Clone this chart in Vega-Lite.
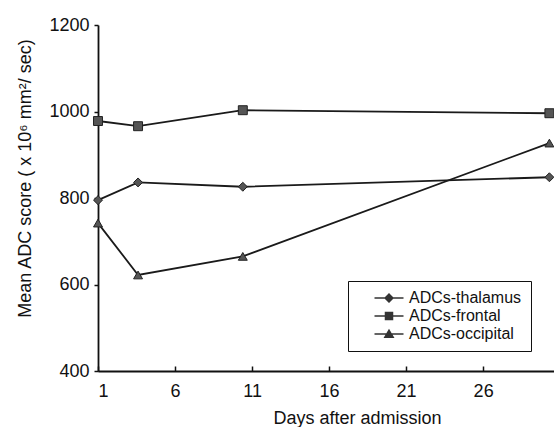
{
  "$schema": "https://vega.github.io/schema/vega-lite/v6.json",
  "width": 456,
  "height": 346,
  "autosize": {"type": "none"},
  "padding": {"left": 98, "top": 25, "right": 0, "bottom": 56},
  "background": "white",
  "config": {
    "view": {"stroke": null},
    "font": "Liberation Sans",
    "axis": {"grid": false, "domainColor": "#111", "domainWidth": 1.8, "tickColor": "#111", "tickWidth": 1.5, "labelColor": "#111", "titleColor": "#111", "labelFont": "Liberation Sans", "titleFont": "Liberation Sans", "labelFontWeight": "normal", "titleFontWeight": "normal"}
  },
  "data": {
    "values": [
      {"day": 1, "adc": 795, "series": "ADCs-thalamus"},
      {"day": 3.6, "adc": 836, "series": "ADCs-thalamus"},
      {"day": 10.4, "adc": 826, "series": "ADCs-thalamus"},
      {"day": 30.3, "adc": 848, "series": "ADCs-thalamus"},
      {"day": 1, "adc": 978, "series": "ADCs-frontal"},
      {"day": 3.6, "adc": 966, "series": "ADCs-frontal"},
      {"day": 10.4, "adc": 1003, "series": "ADCs-frontal"},
      {"day": 30.3, "adc": 996, "series": "ADCs-frontal"},
      {"day": 1, "adc": 742, "series": "ADCs-occipital"},
      {"day": 3.6, "adc": 622, "series": "ADCs-occipital"},
      {"day": 10.4, "adc": 665, "series": "ADCs-occipital"},
      {"day": 30.3, "adc": 927, "series": "ADCs-occipital"}
    ]
  },
  "encoding": {
    "x": {
      "field": "day", "type": "quantitative",
      "scale": {"domain": [1, 30.6], "nice": false, "zero": false},
      "axis": {"values": [1, 6, 11, 16, 21, 26], "format": "d", "tickSize": -5, "labelPadding": 16, "labelDx": 7, "labelFontSize": 18, "title": "Days after admission", "titleFontSize": 18, "titleX": 259, "titleY": 47, "titleBaseline": "middle", "titleAlign": "center"}
    },
    "y": {
      "field": "adc", "type": "quantitative",
      "scale": {"domain": [400, 1200], "nice": false, "zero": false},
      "axis": {"values": [400, 600, 800, 1000, 1200], "format": "d", "tickSize": 4, "labelPadding": 5, "labelFontSize": 18, "title": "Mean ADC score ( x 10⁶ mm²/ sec)", "titleFontSize": 18, "titleAngle": -90, "titleX": -73, "titleY": 153, "titleAlign": "center", "titleBaseline": "middle"}
    }
  },
  "layer": [
    {
      "mark": {"type": "line", "color": "#1a1a1a", "strokeWidth": 1.8},
      "encoding": {"detail": {"field": "series"}}
    },
    {
      "transform": [{"filter": "datum.series === 'ADCs-thalamus'"}],
      "mark": {"type": "point", "shape": "diamond", "filled": true, "color": "#555", "stroke": "#222", "strokeWidth": 1, "opacity": 1, "size": 80}
    },
    {
      "transform": [{"filter": "datum.series === 'ADCs-frontal'"}],
      "mark": {"type": "point", "shape": "square", "filled": true, "color": "#555", "stroke": "#222", "strokeWidth": 1, "opacity": 1, "size": 80}
    },
    {
      "transform": [{"filter": "datum.series === 'ADCs-occipital'"}],
      "mark": {"type": "point", "shape": "triangle-up", "filled": true, "color": "#555", "stroke": "#222", "strokeWidth": 1, "opacity": 1, "size": 80}
    },
    {
      "transform": [{"filter": "datum.day < 0"}],
      "mark": {"type": "point", "filled": true, "color": "#333", "opacity": 1},
      "encoding": {
        "shape": {"field": "series", "type": "nominal",
          "scale": {"domain": ["ADCs-thalamus", "ADCs-frontal", "ADCs-occipital"],
            "range": [
              "M-2.9,-0.16L2.9,-0.16L2.9,0.16L-2.9,0.16ZM0,-1L1,0L0,1L-1,0Z",
              "M-2.9,-0.16L2.9,-0.16L2.9,0.16L-2.9,0.16ZM-0.85,-0.85L0.85,-0.85L0.85,0.85L-0.85,0.85Z",
              "M-2.9,-0.16L2.9,-0.16L2.9,0.16L-2.9,0.16ZM0,-1.05L1.1,0.8L-1.1,0.8Z"
            ]},
          "legend": {
            "title": null,
            "orient": "none", "legendX": 250, "legendY": 256,
            "padding": 9, "strokeColor": "#111", "fillColor": "white",
            "symbolSize": 100, "symbolOffset": 24, "labelOffset": 12,
            "symbolFillColor": "#333", "symbolStrokeWidth": 0,
            "labelFontSize": 16, "labelFont": "Liberation Sans", "labelColor": "#111", "rowPadding": 2, "labelLimit": 300,
            "encode": {
              "legend": {"update": {"strokeWidth": {"value": 1.5}}},
              "symbols": {"update": {"fill": {"value": "#333"}, "opacity": {"value": 1}}}
            }
          }
        }
      }
    }
  ]
}
